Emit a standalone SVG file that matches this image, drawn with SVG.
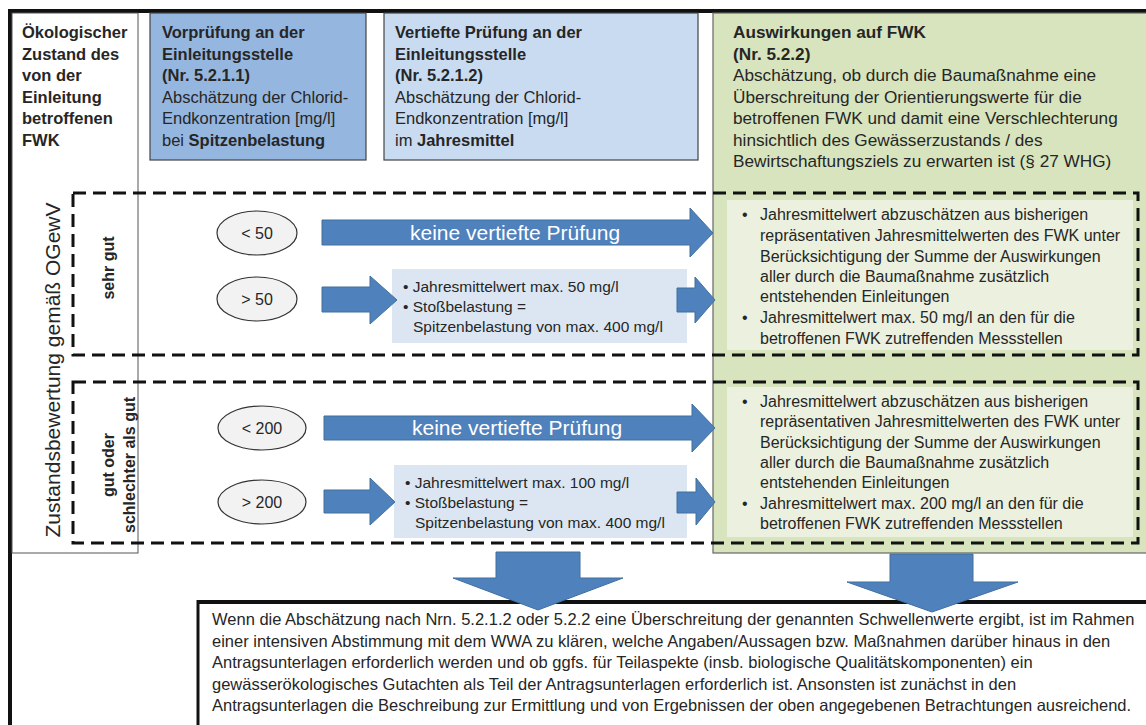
<svg xmlns="http://www.w3.org/2000/svg" width="1146" height="725" viewBox="0 0 1146 725" xml:space="preserve">
<style>
text{font-family:"Liberation Sans",Arial,sans-serif;fill:#262626}
.b{font-weight:bold}
.h{font-size:16.5px}
.g{font-size:17.2px}
.p{font-size:16px}
.q{font-size:16.5px}
.s{font-size:15.5px}
.e{font-size:16px;text-anchor:middle}
.k{font-size:21px;fill:#ffffff}
.dash{fill:none;stroke:#111;stroke-width:3;stroke-dasharray:13 7}
.arrow{fill:#4f81bd;stroke:#41719c;stroke-width:1}
.ell{fill:#f2f2f2;stroke:#333;stroke-width:1.2}
.sbox{fill:#dce6f2}
</style>
<rect x="0" y="0" width="1146" height="725" fill="#ffffff"/>
<g id="frame">
<line x1="8" y1="11" x2="1146" y2="11" stroke="#111" stroke-width="4"/>
<line x1="10" y1="9" x2="10" y2="725" stroke="#111" stroke-width="4"/>
</g>
<g id="col-state">
<rect x="12" y="13" width="126" height="540" fill="#ffffff" stroke="#555" stroke-width="1"/>
<text class="h b" x="22" y="38">Ökologischer</text>
<text class="h b" x="22" y="59.5">Zustand des</text>
<text class="h b" x="22" y="81">von der</text>
<text class="h b" x="22" y="102.5">Einleitung</text>
<text class="h b" x="22" y="124">betroffenen</text>
<text class="h b" x="22" y="145.5">FWK</text>
<text x="0" y="0" transform="translate(60,370) rotate(-90)" style="font-size:21px;text-anchor:middle">Zustandsbewertung gemäß OGewV</text>
</g>
<g id="head-vorpruefung">
<rect x="150" y="13" width="216" height="147" fill="#95b6df" stroke="#444" stroke-width="1.2"/>
<text class="h b" x="162" y="38">Vorprüfung an der</text>
<text class="h b" x="162" y="59.5">Einleitungsstelle</text>
<text class="h b" x="162" y="81">(Nr. 5.2.1.1)</text>
<text class="h" x="162" y="102.5">Abschätzung der Chlorid-</text>
<text class="h" x="162" y="124">Endkonzentration [mg/l]</text>
<text class="h" x="162" y="145.5">bei <tspan class="b">Spitzenbelastung</tspan></text>
</g>
<g id="head-vertiefte">
<rect x="384" y="13" width="314" height="147" fill="#c9dbf0" stroke="#444" stroke-width="1.2"/>
<text class="h b" x="395" y="38">Vertiefte Prüfung an der</text>
<text class="h b" x="395" y="59.5">Einleitungsstelle</text>
<text class="h b" x="395" y="81">(Nr. 5.2.1.2)</text>
<text class="h" x="395" y="102.5">Abschätzung der Chlorid-</text>
<text class="h" x="395" y="124">Endkonzentration [mg/l]</text>
<text class="h" x="395" y="145.5">im <tspan class="b">Jahresmittel</tspan></text>
</g>
<g id="head-auswirkungen">
<rect x="713" y="13" width="440" height="540" fill="#d7e4bd" stroke="#666" stroke-width="1.2"/>
<text class="g b" x="733" y="38">Auswirkungen auf FWK</text>
<text class="g b" x="733" y="59.5">(Nr. 5.2.2)</text>
<text class="g" x="733" y="81">Abschätzung, ob durch die Baumaßnahme eine</text>
<text class="g" x="733" y="102.5">Überschreitung der Orientierungswerte  für die</text>
<text class="g" x="733" y="124">betroffenen FWK und damit eine Verschlechterung</text>
<text class="g" x="733" y="145.5">hinsichtlich des Gewässerzustands / des</text>
<text class="g" x="733" y="167">Bewirtschaftungsziels zu erwarten ist (§ 27 WHG)</text>
</g>
<g id="result-sehrgut">
<rect x="727" y="200" width="406" height="150" fill="#ebf1de"/>
<text class="p" x="742" y="220">•</text>
<text class="p" x="760" y="220">Jahresmittelwert abzuschätzen aus bisherigen</text>
<text class="p" x="760" y="241">repräsentativen Jahresmittelwerten des FWK unter</text>
<text class="p" x="760" y="262">Berücksichtigung der Summe der Auswirkungen</text>
<text class="p" x="760" y="282">aller durch die Baumaßnahme zusätzlich</text>
<text class="p" x="760" y="302">entstehenden Einleitungen</text>
<text class="p" x="742" y="323">•</text>
<text class="p" x="760" y="323">Jahresmittelwert  max. 50 mg/l an den für die</text>
<text class="p" x="760" y="344">betroffenen FWK zutreffenden Messstellen</text>
</g>
<g id="result-gut">
<rect x="727" y="387" width="406" height="150" fill="#ebf1de"/>
<text class="p" x="742" y="407">•</text>
<text class="p" x="760" y="407">Jahresmittelwert abzuschätzen aus bisherigen</text>
<text class="p" x="760" y="427">repräsentativen Jahresmittelwerten des FWK unter</text>
<text class="p" x="760" y="448">Berücksichtigung der Summe der Auswirkungen</text>
<text class="p" x="760" y="468">aller durch die Baumaßnahme zusätzlich</text>
<text class="p" x="760" y="488">entstehenden Einleitungen</text>
<text class="p" x="742" y="509">•</text>
<text class="p" x="760" y="509">Jahresmittelwert  max. 200 mg/l an den für die</text>
<text class="p" x="760" y="529">betroffenen FWK zutreffenden Messstellen</text>
</g>
<g id="row-sehrgut">
<rect class="dash" x="73" y="193" width="1065" height="162"/>
<text class="b" x="0" y="0" transform="translate(114,268) rotate(-90)" style="font-size:16px;text-anchor:middle">sehr gut</text>
</g>
<g id="row-gut">
<rect class="dash" x="73" y="382" width="1065" height="161"/>
<text class="b" x="0" y="0" transform="translate(114,465) rotate(-90)" style="font-size:16px;text-anchor:middle">gut oder</text>
<text class="b" x="0" y="0" transform="translate(135,465) rotate(-90)" style="font-size:16px;text-anchor:middle">schlechter als gut</text>
</g>
<g id="lt50">
<ellipse class="ell" cx="257" cy="233" rx="40" ry="22"/>
<text class="e" x="257" y="239">&lt; 50</text>
</g>
<g id="gt50">
<ellipse class="ell" cx="257" cy="299" rx="40" ry="22"/>
<text class="e" x="257" y="305">&gt; 50</text>
</g>
<g id="lt200">
<ellipse class="ell" cx="262" cy="428" rx="44" ry="22"/>
<text class="e" x="262" y="434">&lt; 200</text>
</g>
<g id="gt200">
<ellipse class="ell" cx="262" cy="502" rx="44" ry="22"/>
<text class="e" x="262" y="508">&gt; 200</text>
</g>
<g id="check-50">
<rect class="sbox" x="392" y="269" width="295" height="74"/>
<text class="s" x="403" y="292">• Jahresmittelwert max. 50 mg/l</text>
<text class="s" x="403" y="312">• Stoßbelastung =</text>
<text class="s" x="413" y="332">Spitzenbelastung von max. 400 mg/l</text>
</g>
<g id="check-200">
<rect class="sbox" x="394" y="465" width="293" height="73"/>
<text class="s" x="405" y="488">• Jahresmittelwert max. 100 mg/l</text>
<text class="s" x="405" y="508">• Stoßbelastung =</text>
<text class="s" x="415" y="528">Spitzenbelastung von max. 400 mg/l</text>
</g>
<g id="conclusion">
<rect x="198" y="602" width="960" height="130" fill="#ffffff"/>
<line x1="198" y1="602" x2="1146" y2="602" stroke="#111" stroke-width="4"/>
<line x1="198" y1="600" x2="198" y2="725" stroke="#111" stroke-width="3"/>
<text class="q" x="212" y="625">Wenn die Abschätzung nach Nrn. 5.2.1.2 oder 5.2.2 eine Überschreitung der genannten Schwellenwerte ergibt, ist im Rahmen</text>
<text class="q" x="212" y="646.5">einer intensiven Abstimmung mit dem WWA zu klären, welche Angaben/Aussagen bzw. Maßnahmen darüber hinaus in den</text>
<text class="q" x="212" y="668">Antragsunterlagen erforderlich werden und ob ggfs. für Teilaspekte (insb. biologische Qualitätskomponenten) ein</text>
<text class="q" x="212" y="689.5">gewässerökologisches  Gutachten als Teil der Antragsunterlagen erforderlich ist.  Ansonsten ist zunächst in den</text>
<text class="q" x="212" y="711">Antragsunterlagen die Beschreibung zur Ermittlung und von Ergebnissen der oben angegebenen Betrachtungen ausreichend.</text>
</g>
<g id="connectors">
<path class="arrow" d="M322,220 H690 V208 L713,233 L690,257 V245 H322 Z"/>
<text class="k" x="410" y="240">keine vertiefte Prüfung</text>
<path class="arrow" d="M324,416 H692 V404 L715,428 L692,452 V440 H324 Z"/>
<text class="k" x="412" y="435">keine vertiefte Prüfung</text>
<path class="arrow" d="M322,287 H370 V276 L397,300 L370,324 V312 H322 Z"/>
<path class="arrow" d="M677,288 H695 V277 L715,300 L695,323 V312 H677 Z"/>
<path class="arrow" d="M324,490 H370 V478 L395,502 L370,525 V513 H324 Z"/>
<path class="arrow" d="M677,492 H696 V478 L715,502 L696,525 V513 H677 Z"/>
<path class="arrow" d="M496,552 H580 V578 H623 L538,610 L453,578 H496 Z"/>
<path class="arrow" d="M890,554 H973 V582 H1018 L932,612 L847,582 H890 Z"/>
</g>
</svg>
